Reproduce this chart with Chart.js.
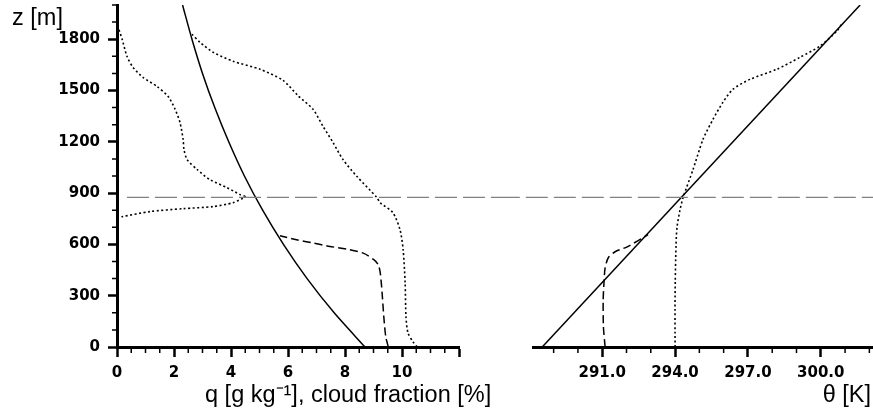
<!DOCTYPE html>
<html>
<head>
<meta charset="utf-8">
<script src="https://cdn.jsdelivr.net/npm/chart.js@4.4.0/dist/chart.umd.min.js"></script>
<style>
  body { margin: 0; background: #fff; }
  #wrap { position: relative; width: 873px; height: 414px; }
  canvas { position: absolute; top: 0; }
  #left { left: 0; }
  #right { left: 500px; }
</style>
</head>
<body>
<div id="wrap">
  <canvas id="left" width="500" height="414"></canvas>
  <canvas id="right" width="373" height="414"></canvas>
</div>
<script>
// height of the inversion (grey long-dash line), m
const inversionZ = 875;

// tick labels
const zTicks = [0, 300, 600, 900, 1200, 1500, 1800];
const qTicks = [0, 2, 4, 6, 8, 10, 12];
const thetaTicks = [291, 294, 297, 300];

// left panel, solid: saturation q [g/kg]
const satZ = [0, 200, 400, 600, 800, 1000, 1200, 1400, 1600, 1800, 2000];
const satQ = [8.70, 7.62, 6.67, 5.84, 5.11, 4.47, 3.92, 3.43, 3.00, 2.63, 2.30];

// left panel, dashed: total water q [g/kg]
const totZ = [0, 60, 180, 320, 430, 480, 512, 549, 573, 588, 608, 627, 651];
const totQ = [9.52, 9.43, 9.36, 9.30, 9.24, 9.17, 9.00, 8.64, 8.06, 7.47, 6.89, 6.30, 5.72];

// left panel, dotted (left): cloud fraction [%]
const cloudZ = [1880, 1800, 1700, 1636, 1577, 1524, 1466, 1390, 1313, 1214, 1155, 1096, 1038, 979, 932, 891, 879, 844, 821, 809, 792, 762, 755];
const cloudF = [0.02, 0.18, 0.35, 0.56, 0.91, 1.40, 1.79, 2.04, 2.21, 2.32, 2.35, 2.46, 2.81, 3.26, 3.86, 4.32, 4.49, 4.07, 3.37, 2.32, 1.16, 0.18, 0.02];

// left panel, dotted (right): q [g/kg]
const qDotZ = [1829, 1782, 1724, 1671, 1624, 1560, 1470, 1390, 1290, 1196, 1096, 997, 874, 844, 786, 686, 569, 375, 176, 82, 29, 0];
const qDot = [2.63, 2.91, 3.37, 4.07, 5.02, 5.82, 6.35, 6.88, 7.23, 7.58, 7.93, 8.42, 9.12, 9.23, 9.68, 9.93, 10.04, 10.11, 10.14, 10.21, 10.39, 10.53];

// right panel: theta [K]
const thLineZ = [0, 2000];
const thLine = [288.53, 301.62];
const thDashZ = [0, 117, 276, 393, 463, 522, 557, 586, 657];
const thDash = [291.12, 291.05, 291.04, 291.08, 291.12, 291.25, 291.53, 292.03, 292.89];
const thDotZ = [0, 300, 600, 700, 800, 874, 1038, 1214, 1331, 1431, 1507, 1565, 1624, 1694, 1759, 1847, 1888];
const thDot = [294.0, 294.0, 294.04, 294.08, 294.2, 294.33, 294.74, 295.15, 295.56, 295.97, 296.38, 297.08, 298.19, 299.14, 299.96, 300.66, 300.86];

function pts(xs, zs) {
    return xs.map((x, i) => ({ x: x, y: zs[i] }));
}

function line(data, dash, extra) {
    return Object.assign({
        data: data,
        borderColor: '#000',
        borderWidth: 1.5,
        borderDash: dash,
        pointRadius: 0,
        showLine: true,
        tension: 0.25
    }, extra || {});
}

// minor ticks and axis titles
const decorations = {
    id: 'decorations',
    afterDraw(chart, args, opts) {
        const ctx = chart.ctx;
        const area = chart.chartArea;
        ctx.save();
        ctx.strokeStyle = '#000';
        ctx.lineWidth = 1.5;
        ctx.beginPath();
        (opts.xMinor || []).forEach(v => {
            const px = chart.scales.x.getPixelForValue(v);
            ctx.moveTo(px, area.bottom);
            ctx.lineTo(px, area.bottom + 6);
        });
        (opts.yMinor || []).forEach(v => {
            const py = chart.scales.y.getPixelForValue(v);
            ctx.moveTo(area.left, py);
            ctx.lineTo(area.left - 5, py);
        });
        ctx.stroke();
        ctx.fillStyle = '#000';
        (opts.texts || []).forEach(t => {
            ctx.font = t.font;
            ctx.textAlign = t.align;
            ctx.textBaseline = 'alphabetic';
            ctx.fillText(t.text, t.x, t.y);
        });
        ctx.restore();
    }
};

const tickFont = { family: 'DejaVu Sans', size: 15, weight: 'bold' };
const titleFont = '23.5px "Liberation Sans"';
const axisGrid = (len) => ({
    display: true, drawOnChartArea: false, drawTicks: true,
    tickLength: len, tickWidth: 2.5, tickColor: '#000'
});
const axisBorder = { display: true, width: 3, color: '#000' };

// keep the plot area where the layout padding puts it
function noPad(s) {
    s.paddingTop = 0; s.paddingBottom = 0; s.paddingLeft = 0; s.paddingRight = 0;
}

function range(from, to, step) {
    const out = [];
    for (let v = from; v <= to + 1e-9; v += step) out.push(Math.round(v * 100) / 100);
    return out;
}

const baseOptions = {
    responsive: false,
    animation: false,
    events: [],
    plugins: { legend: { display: false }, tooltip: { enabled: false } }
};

// left panel
new Chart(document.getElementById('left'), {
    type: 'scatter',
    data: {
        datasets: [
            line(pts([0.35, 13.5], [inversionZ, inversionZ]), [22, 6], { borderColor: '#808080', borderWidth: 1.3, tension: 0, clip: false }),
            line(pts(satQ, satZ), []),
            line(pts(totQ, totZ), [8, 4]),
            line(pts(cloudF, cloudZ), [2, 2.5], { borderWidth: 1.6 }),
            line(pts(qDot, qDotZ), [2, 2.5], { borderWidth: 1.6 })
        ]
    },
    options: Object.assign({}, baseOptions, {
        layout: { padding: { left: 0, top: 5, right: 41, bottom: 0 } },
        scales: {
            x: {
                type: 'linear', min: 0, max: 12,
                afterBuildTicks: s => { s.ticks = qTicks.map(v => ({ value: v })); },
                afterFit: s => { s.height = 67; noPad(s); },
                ticks: { font: tickFont, color: '#000', padding: 7, maxRotation: 0,
                         callback: v => (v === 12 ? '' : String(v)) },
                grid: axisGrid(10),
                border: axisBorder
            },
            y: {
                type: 'linear', min: 0, max: 2000,
                afterBuildTicks: s => { s.ticks = zTicks.map(v => ({ value: v })); },
                afterFit: s => { s.width = 117; noPad(s); },
                ticks: { font: tickFont, color: '#000', padding: 8, callback: v => String(v) },
                grid: axisGrid(9),
                border: axisBorder
            }
        },
        plugins: Object.assign({}, baseOptions.plugins, {
            decorations: {
                xMinor: range(0, 12, 0.5).filter(v => v % 2 !== 0),
                yMinor: range(0, 2000, 100).filter(v => v % 300 !== 0),
                texts: [
                    { text: 'z [m]', x: 12, y: 25, align: 'left', font: titleFont },
                    { text: 'q [g kg\u207B\u00B9], cloud fraction [%]', x: 205, y: 402, align: 'left', font: titleFont }
                ]
            }
        })
    }),
    plugins: [decorations]
});

// right panel
new Chart(document.getElementById('right'), {
    type: 'scatter',
    data: {
        datasets: [
            line(pts([286.7, 302.2], [inversionZ, inversionZ]), [22, 6], { borderColor: '#808080', borderWidth: 1.3, tension: 0, clip: false }),
            line(pts(thLine, thLineZ), [], { tension: 0 }),
            line(pts(thDash, thDashZ), [8, 4]),
            line(pts(thDot, thDotZ), [2, 2.5], { borderWidth: 1.6 })
        ]
    },
    options: Object.assign({}, baseOptions, {
        layout: { padding: { left: 33, top: 5, right: 0, bottom: 0 } },
        scales: {
            x: {
                type: 'linear', min: 288.15, max: 302.15,
                afterBuildTicks: s => { s.ticks = thetaTicks.map(v => ({ value: v })); },
                afterFit: s => { s.height = 67; noPad(s); },
                ticks: { font: tickFont, color: '#000', padding: 7, maxRotation: 0,
                         callback: v => v.toFixed(1) },
                grid: axisGrid(10),
                border: axisBorder
            },
            y: { type: 'linear', min: 0, max: 2000, display: false }
        },
        plugins: Object.assign({}, baseOptions.plugins, {
            decorations: {
                xMinor: range(289, 302, 1).filter(v => v % 3 !== 0),
                texts: [
                    { text: '\u03B8 [K]', x: 371, y: 402, align: 'right', font: titleFont }
                ]
            }
        })
    }),
    plugins: [decorations]
});
</script>
</body>
</html>
